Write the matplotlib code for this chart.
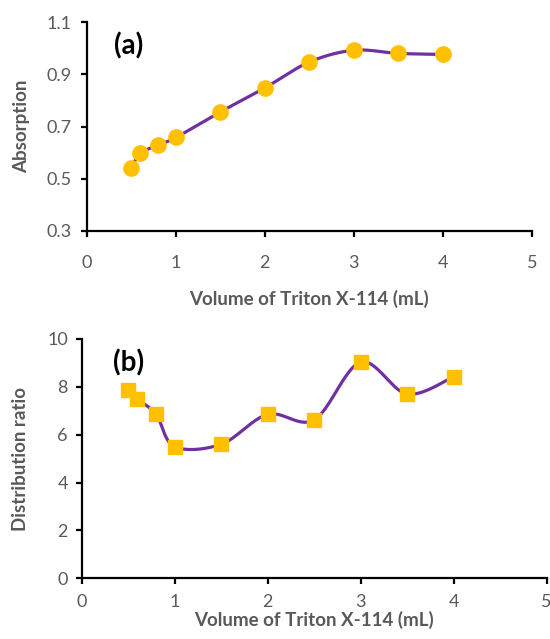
import numpy as np
import matplotlib
matplotlib.use("Agg")
import matplotlib.pyplot as plt

# Data
volume = [0.5, 0.6, 0.8, 1.0, 1.5, 2.0, 2.5, 3.0, 3.5, 4.0]
absorption = [0.54, 0.597, 0.629, 0.658, 0.756, 0.848, 0.947, 0.992, 0.980, 0.976]
dist_ratio = [7.87, 7.49, 6.85, 5.50, 5.60, 6.85, 6.62, 9.03, 7.70, 8.42]
xticks = [0, 1, 2, 3, 4, 5]
yticks_a = [0.3, 0.5, 0.7, 0.9, 1.1]
yticks_b = [0, 2, 4, 6, 8, 10]

PURPLE = "#7030A0"
GOLD = "#FFC000"
GRAY = "#595959"
FONT = ["Lato", "DejaVu Sans"]


def smooth(x, y, n=30):
    x = np.asarray(x, float); y = np.asarray(y, float)
    P = np.column_stack([x, y])
    out = []
    for i in range(len(P) - 1):
        p0 = P[i - 1] if i > 0 else P[i]
        p1 = P[i]
        p2 = P[i + 1]
        p3 = P[i + 2] if i + 2 < len(P) else P[i + 1]
        c1 = p1 + (p2 - p0) / 6.0
        c2 = p2 - (p3 - p1) / 6.0
        t = np.linspace(0, 1, n)[:, None]
        seg = ((1 - t) ** 3) * p1 + 3 * ((1 - t) ** 2) * t * c1 + 3 * (1 - t) * t ** 2 * c2 + t ** 3 * p2
        out.append(seg if i == 0 else seg[1:])
    s = np.vstack(out)
    return s[:, 0], s[:, 1]


fig = plt.figure(figsize=(5.5, 6.39), dpi=100)
ax1 = fig.add_axes([0.158, 0.6385, 0.809, 0.327])
ax2 = fig.add_axes([0.1485, 0.095, 0.8455, 0.3745])


def style(ax, yt, fmt):
    for s in ["top", "right"]:
        ax.spines[s].set_visible(False)
    for s in ["left", "bottom"]:
        ax.spines[s].set_linewidth(1.6)
        ax.spines[s].set_color("black")
    ax.set_xlim(0, 5)
    ax.set_ylim(yt[0], yt[-1])
    ax.set_xticks(xticks)
    ax.set_yticks(yt)
    ax.set_yticklabels([fmt(v) for v in yt])
    ax.tick_params(direction="out", length=4, width=1.6, colors="black",
                   labelcolor=GRAY, labelsize=13)
    for lab in ax.get_xticklabels() + ax.get_yticklabels():
        lab.set_family(FONT)


style(ax1, yticks_a, lambda v: f"{v:.1f}")
style(ax2, yticks_b, lambda v: f"{v:d}")
ax1.tick_params(axis="x", pad=13)
ax1.tick_params(axis="y", pad=7)
ax2.tick_params(axis="x", pad=7)
ax2.tick_params(axis="y", pad=6)

sx, sy = smooth(volume, absorption)
ax1.plot(sx, sy, color=PURPLE, lw=2.3, zorder=2)
ax1.plot(volume, absorption, "o", color=GOLD, ms=11, mec=GOLD, zorder=3, clip_on=False)

sx, sy = smooth(volume, dist_ratio)
ax2.plot(sx, sy, color=PURPLE, lw=2.3, zorder=2)
ax2.plot(volume, dist_ratio, "s", color=GOLD, ms=10.5, mec=GOLD, zorder=3, clip_on=False)

ax1.set_xlabel("Volume of Triton X-114 (mL)", fontsize=13.5, fontweight="bold",
               color=GRAY, family=FONT, labelpad=14)
ax1.set_ylabel("Absorption", fontsize=13.5, fontweight="bold", color=GRAY,
               family=FONT, labelpad=12)
ax2.set_xlabel("Volume of Triton X-114 (mL)", fontsize=13.5, fontweight="bold",
               color=GRAY, family=FONT, labelpad=1)
ax2.set_ylabel("Distribution ratio", fontsize=13.5, fontweight="bold", color=GRAY,
               family=FONT, labelpad=13)

ax1.text(0.31, 1.01, "(a)", fontsize=20, fontweight="bold", family=FONT,
         color="black", va="center", ha="left")
ax2.text(0.34, 9.0, "(b)", fontsize=20, fontweight="bold", family=FONT,
         color="black", va="center", ha="left")

fig.savefig("out.png", dpi=100, facecolor="white")
